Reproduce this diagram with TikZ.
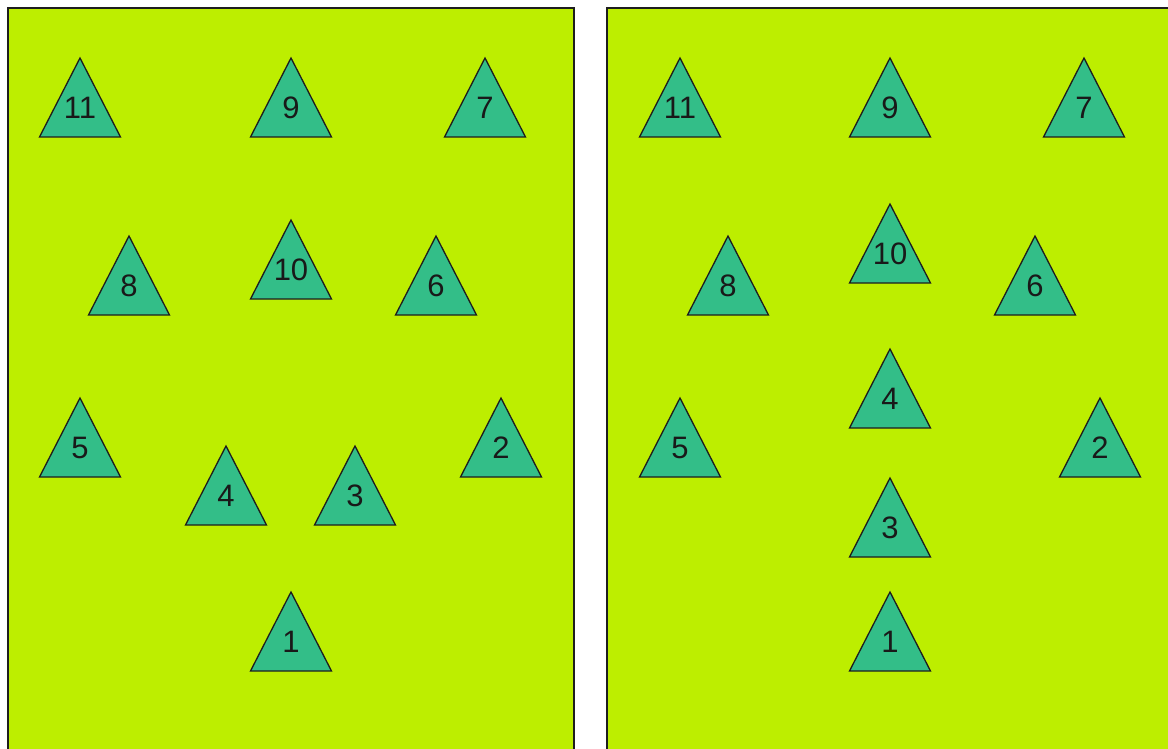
\documentclass[tikz,border=0pt]{standalone}
\usepackage{fontspec}
\setmainfont{Liberation Sans}
\usetikzlibrary{positioning}
\definecolor{PanelLime}{RGB}{189,238,0}
\definecolor{TriGreen}{RGB}{51,190,136}
\definecolor{EdgeDark}{RGB}{30,30,30}

\begin{document}
\begin{tikzpicture}[
x=1pt,y=-1pt,
panel/.style={draw=EdgeDark,line width=1.4pt},
tri/.style={draw=EdgeDark,fill=TriGreen,line width=1.3pt,line join=miter},
num/.style={inner sep=0pt,font=\fontsize{31}{31}\selectfont,text=black!90}
]
\useasboundingbox (0,0) rectangle (1168,749);
% panels
\fill[PanelLime] (8,8) rectangle (574,760);
\fill[PanelLime] (607,8) rectangle (1180,760);
\draw[panel] (8,760) -- (8,8) -- (574,8) -- (574,760);
\draw[panel] (607,760) -- (607,8) -- (1180,8);
% left panel: label/centre x/base y
\foreach \lab/\cx/\by in {11/80/137,9/291/137,7/485/137,8/129/315,10/291/299,6/436/315,5/80/477,2/501/477,4/226/525,3/355/525,1/291/671}{
  \draw[tri] (\cx-40.5,\by) -- (\cx,\by-79) -- (\cx+40.5,\by) -- cycle;
  \node[num] (l\lab) at (\cx,\by-29) {\lab};
}
% right panel
\foreach \lab/\cx/\by in {11/680/137,9/890/137,7/1084/137,8/728/315,10/890/283,6/1035/315,4/890/428,5/680/477,2/1100/477,3/890/557,1/890/671}{
  \draw[tri] (\cx-40.5,\by) -- (\cx,\by-79) -- (\cx+40.5,\by) -- cycle;
  \node[num] (r\lab) at (\cx,\by-29) {\lab};
}
\end{tikzpicture}
\end{document}
